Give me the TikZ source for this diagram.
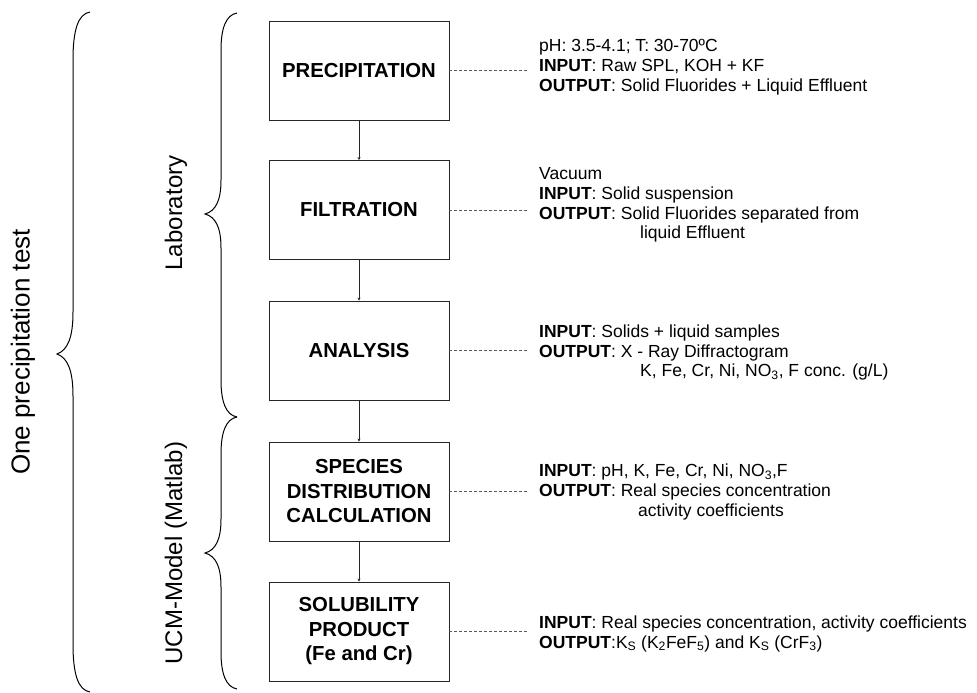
\documentclass[tikz,border=0pt]{standalone}
\usepackage{fontspec}
\setmainfont{Liberation Sans}
\usetikzlibrary{arrows.meta}
\begin{document}
\begin{tikzpicture}[x=1pt,y=-1pt,
 box/.style={draw=black!85, line width=0.9pt, minimum width=180pt, minimum height=99pt, align=center, font=\fontsize{20.3}{24.5}\selectfont\bfseries, inner sep=0pt},
 info/.style={anchor=west, align=left, inner sep=0pt, font=\fontsize{17.5}{19.7}\selectfont},
 link/.style={dash pattern=on 3pt off 2pt, draw=black!65, line width=0.6pt},
 flow/.style={draw=black!85, line width=0.7pt, -{Stealth[length=3pt,width=3pt]}},
 brace/.style={draw=black, line width=1pt},
 side/.style={rotate=90, inner sep=0pt, font=\fontsize{24}{28}\selectfont}]
\useasboundingbox (0,0) rectangle (977,693);

% process boxes
\node[box] (p) at (359,70.5) {PRECIPITATION};
\node[box] (f) at (359,210) {FILTRATION};
\node[box] (a) at (359,350.5) {ANALYSIS};
\node[box] (s) at (359,491.5) {SPECIES\\DISTRIBUTION\\CALCULATION};
\node[box] (k) at (359,631.5) {SOLUBILITY\\PRODUCT\\(Fe and Cr)};

\draw[flow] (p) -- (f);
\draw[flow] (f) -- (a);
\draw[flow] (a) -- (s);
\draw[flow] (s) -- (k);

% dashed leaders
\coordinate (pe) at (528,70.5);
\coordinate (fe) at (528,210);
\coordinate (ae) at (528,350.5);
\coordinate (se) at (528,491.5);
\coordinate (ke) at (528,631.5);
\draw[link] (p.east) -- (pe);
\draw[link] (f.east) -- (fe);
\draw[link] (a.east) -- (ae);
\draw[link] (s.east) -- (se);
\draw[link] (k.east) -- (ke);

% info texts
\node[info] (pt) at (539,67) {pH: 3.5-4.1; T: 30-70ºC\\\textbf{INPUT}: Raw SPL, KOH + KF\\\textbf{OUTPUT}: Solid Fluorides + Liquid Effluent};
\node[info] (ft) at (539,205) {Vacuum\\\textbf{INPUT}: Solid suspension\\\textbf{OUTPUT}: Solid Fluorides separated from\\\hspace*{101pt}liquid Effluent};
\node[info] (at) at (539,352.5) {\textbf{INPUT}: Solids + liquid samples\\\textbf{OUTPUT}: X - Ray Diffractogram\\\hspace*{101pt}K, Fe, Cr, Ni, NO\textsubscript{3}, F conc. (g/L)};
\node[info] (st) at (539,492) {\textbf{INPUT}: pH, K, Fe, Cr, Ni, NO\textsubscript{3},F\\\textbf{OUTPUT}: Real species concentration\\\hspace*{99pt}activity coefficients};
\node[info] (kt) at (539,634) {\textbf{INPUT}: Real species concentration, activity coefficients\\\textbf{OUTPUT}:K\textsubscript{S} (K\textsubscript{2}FeF\textsubscript{5}) and K\textsubscript{S} (CrF\textsubscript{3})};

% braces
\draw[brace] (90,12) .. controls (78,14) and (73,30) .. (73,60) -- (73,312)
  .. controls (73,337) and (68,350) .. (57,354)
  .. controls (68,358) and (73,371) .. (73,396) -- (73,644)
  .. controls (73,674) and (78,690) .. (90,692);
\draw[brace] (237,13) .. controls (226,15) and (221,28) .. (221,50) -- (221,180)
  .. controls (221,200) and (216,211) .. (205,214)
  .. controls (216,217) and (221,228) .. (221,248) -- (221,380)
  .. controls (221,402) and (226,415) .. (237,417);
\draw[brace] (237,417) .. controls (226,419) and (221,432) .. (221,454) -- (221,519)
  .. controls (221,539) and (216,550) .. (205,553)
  .. controls (216,556) and (221,567) .. (221,587) -- (221,652)
  .. controls (221,674) and (226,687) .. (237,689);

% side labels
\node[side, font=\fontsize{26}{30}\selectfont] (one) at (23,352) {One precipitation test};
\node[side] (lab) at (176,213) {Laboratory};
\node[side] (ucm) at (176,553) {UCM-Model (Matlab)};
\end{tikzpicture}
\end{document}
